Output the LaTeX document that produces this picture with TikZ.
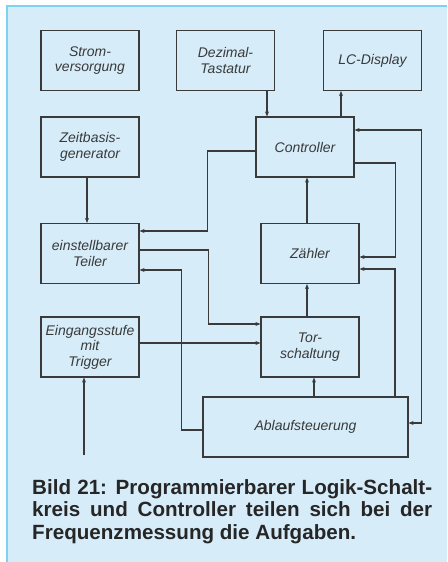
\documentclass[tikz,border=0pt]{standalone}
\usepackage{fontspec}
\setmainfont{Liberation Sans}
\usepackage{xcolor}
\usetikzlibrary{arrows.meta}
\definecolor{panelblue}{RGB}{214,236,249}
\definecolor{panelrim}{RGB}{125,210,240}
\definecolor{inkgrey}{RGB}{58,58,58}
\newcommand{\BlockFont}{\fontsize{14}{15.5}\selectfont\itshape}
\newcommand{\CaptionFont}{\fontsize{20.6}{22.5}\selectfont\bfseries}

\begin{document}
\begin{tikzpicture}[x=1pt,y=-1pt,
    blk/.style={draw=inkgrey,line width=1.2pt,minimum width=98pt,minimum height=60pt,
      inner sep=1pt,align=center,text=inkgrey,font=\BlockFont},
    arr/.style={draw=inkgrey,line width=1.1pt,-{Stealth[length=5pt,width=4pt]}},
    dblarr/.style={arr,{Stealth[length=5pt,width=4pt]}-{Stealth[length=5pt,width=4pt]}}]
        \useasboundingbox (0,0) rectangle (447,562);
        \fill[white] (0,0) rectangle (447,562);
        \fill[panelblue] (7,6) rectangle (447,562);
        \draw[panelrim,line width=1.2pt] (7,562) -- (7,6) -- (447,6);

        % top row
        \node[blk] (strom) at (90,60.5) {Strom-\\versorgung};
        \node[blk] (dezi) at (225.5,60.5) {Dezimal-\\Tastatur};
        \node[blk] (lcd) at (372.5,60.5) {LC-Display};
        % second row
        \node[blk] (zeit) at (90,147) {Zeitbasis-\\generator};
        \node[blk] (ctrl) at (305,147) {Controller};
        % third row
        \node[blk] (teiler) at (90,253.5) {einstellbarer\\Teiler};
        \node[blk] (zaehler) at (310,253.5) {Zähler};
        % fourth row
        \node[blk] (eingang) at (90,347) {Eingangsstufe\\mit\\Trigger};
        \node[blk] (tor) at (310,347) {Tor-\\schaltung};
        \node[blk,minimum width=205pt] (ablauf) at (305.5,427) {Ablaufsteuerung};
        \coordinate (inp) at (84,455);

        \draw[arr] ([xshift=41.5pt]dezi.south) -- ([xshift=41.5pt]dezi.south |- ctrl.north);
        \draw[arr] ([xshift=36pt]ctrl.north) -- ([xshift=36pt]ctrl.north |- lcd.south);
        \draw[arr] ([xshift=-3pt]zeit.south) -- ([xshift=-3pt]teiler.north);
        \draw[arr] ([yshift=-4pt]ctrl.west) -- ++(-48,0) |- ([yshift=22.5pt]teiler.east);
        \draw[arr] ([xshift=-3pt]zaehler.north) -- ([xshift=-3pt]zaehler.north |- ctrl.south);
        \draw[arr] ([yshift=-16pt]ctrl.east) -- ++(41,0) |- ([yshift=-3.5pt]zaehler.east);
        \draw[dblarr] ([yshift=4pt]ablauf.east) -- ++(13,0) |- ([yshift=17pt]ctrl.east);
        \draw[arr] ([yshift=3.5pt]teiler.east) -- ++(69,0) |- ([yshift=23pt]tor.west);
        \draw[arr] ([yshift=4pt]eingang.east) -- ([yshift=4pt]eingang.east -| tor.west);
        \draw[arr] ([xshift=-3pt]tor.north) -- ([xshift=-3pt]zaehler.south);
        \draw[arr] ([xshift=8.5pt]ablauf.north) -- ([xshift=8.5pt]ablauf.north |- tor.south);
        \draw[arr] ([xshift=89.5pt]ablauf.north) |- ([yshift=-15.5pt]zaehler.east);
        \draw[arr] ([yshift=-3pt]ablauf.west) -- ++(-21,0) |- ([yshift=-16.5pt]teiler.east);
        \draw[arr] (inp) -- (inp |- eingang.south);

        \node[anchor=north west,inner sep=0pt,text width=400pt,align=justify,text=black!85,
          font=\CaptionFont] (caption) at (32,479)
          {\hyphenpenalty=10000 Bild 21: Programmierbarer Logik-Schalt-\linebreak
          kreis und Controller teilen sich bei der\linebreak
          Frequenzmessung die Aufgaben.};
      \end{tikzpicture}
\end{document}
